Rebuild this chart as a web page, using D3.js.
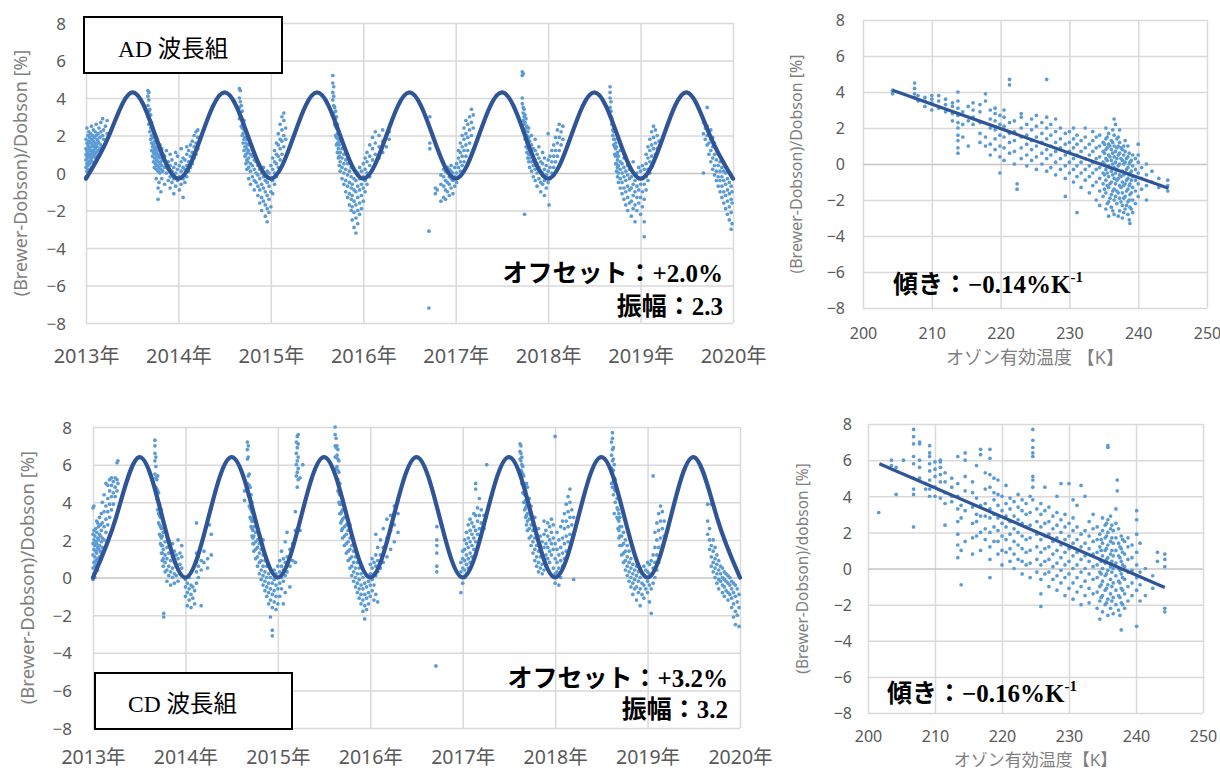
<!DOCTYPE html>
<html><head><meta charset="utf-8">
<script src="https://cdn.jsdelivr.net/npm/d3@7"></script>
<style>body{margin:0;background:#fff}svg{display:block}</style>
</head><body>
<svg id="c" width="1220" height="771"></svg>
<script>
// ---------------- DATA ----------------
const yearLabels = ["2013年","2014年","2015年","2016年","2017年","2018年","2019年","2020年"];
const yTickValues = [-8,-6,-4,-2,0,2,4,6,8];
const tempTicks = [200,210,220,230,240,250];

// fitted seasonal curves, values read at quarter-year steps from 2013.0
const adCurve = [-0.3,2.0,4.3,2.0, -0.3,2.0,4.3,2.0, -0.3,2.0,4.3,2.0, -0.3,2.0,4.3,2.0, -0.3,2.0,4.3,2.0, -0.3,2.0,4.3,2.0, -0.3,2.0,4.3,2.0, -0.3];
const cdCurve = [0.0,3.2,6.4,3.2, 0.0,3.2,6.4,3.2, 0.0,3.2,6.4,3.2, 0.0,3.2,6.4,3.2, 0.0,3.2,6.4,3.2, 0.0,3.2,6.4,3.2, 0.0,3.2,6.4,3.2, 0.0];

// regression lines [temperature K, %]
const adFit = [[204.3,4.1],[244.4,-1.35]];
const cdFit = [[201.7,5.8],[244.3,-1.05]];

// time series points: "years-since-2013:v,v,v;..."
const adSeries = `
0.00:-0.2,0.3,0.7,1.0,1.3,1.8;0.01:0.1,0.5,0.9,1.2,1.6,2.4;0.02:0.4,0.8,1.1,1.5,2.0;0.03:0.2,0.6,1.0,1.4,1.7,2.2;
0.04:0.5,0.9,1.3,1.9;0.05:0.7,1.0,1.2,1.6,2.1;0.06:0.3,0.8,1.4,1.8,2.5;0.07:0.6,1.1,1.5,2.0;0.08:0.9,1.2,1.7,2.3;
0.09:0.5,1.0,1.4,1.9;0.10:0.8,1.3,1.6,2.2;0.11:1.1,1.5,2.0,2.6;0.12:0.9,1.4,1.8;0.13:1.2,1.7,2.1;0.14:1.0,1.6,2.4;
0.15:1.3,1.9;0.16:1.5,2.2,2.7;0.18:1.4,2.0,2.9;0.19:1.8,2.3;0.21:1.6,2.5;0.23:2.1,2.8;
0.67:3.0,3.6,4.1,4.4;0.68:2.6,3.3,3.9,4.3;0.69:2.2,2.8,3.4;0.70:1.8,2.4,3.1;0.71:1.2,1.6,2.0,2.7;0.72:0.9,1.4,1.9,2.3;
0.73:0.6,1.1,1.5,2.1;0.74:0.3,0.8,1.3,1.7;0.75:0.5,1.0,1.2,1.6,2.0;0.76:-0.3,0.2,0.7,1.1,1.4;0.77:0.4,0.9,1.3,1.8;
0.78:-1.4,-0.8,0.1,0.6,1.0;0.79:-0.5,0.3,0.8,1.2;0.80:0.0,0.5,0.9,1.5;0.81:-1.0,0.2,0.6,1.1;0.82:-0.3,0.4,0.8,1.3;
0.83:0.1,0.7,1.0;0.85:-0.6,0.3,0.9;0.87:0.0,0.5,1.2;0.89:-0.4,0.2,0.6;0.91:-0.8,-0.2,0.4,1.0;0.93:-0.5,0.1,0.7;
0.95:-1.1,-0.3,0.3;0.97:-0.7,0.0,0.5,1.1;0.99:-0.4,0.2,0.9;1.01:-0.9,-0.2,0.4;1.03:-0.6,0.1,0.6,1.3;1.05:-1.3,-0.3,0.3,0.8;
1.07:-0.5,0.2,0.7;1.09:-0.2,0.4,1.0,1.4;1.11:0.1,0.6,1.2;1.13:0.3,0.9,1.5;1.15:0.5,1.1,1.7;1.17:0.8,1.4,2.0;1.19:1.0,1.6,2.2;1.21:1.3,1.9,2.3;
1.66:2.9,3.5,4.0,4.5;1.67:3.2,3.8,4.4;1.68:2.5,3.0,3.6;1.69:2.0,2.4,2.9,3.3;1.70:1.6,2.1,2.6;1.71:1.2,1.8,2.3,2.8;
1.72:0.9,1.4,1.9;1.73:0.5,1.0,1.6,2.2;1.74:0.2,0.7,1.3,1.8;1.75:0.6,1.1,1.5;1.76:-0.3,0.3,0.8,1.2;1.78:-0.6,0.1,0.5,1.0;
1.80:-0.2,0.4,0.9;1.82:-0.9,-0.4,0.2,0.7;1.84:-0.5,0.0,0.6;1.86:-1.2,-0.7,-0.1,0.4;1.88:-1.6,-0.9,-0.3,0.2;
1.90:-2.0,-1.3,-0.6,0.0;1.92:-1.5,-0.8,-0.2,0.3;1.94:-2.3,-1.7,-1.0,-0.4;1.96:-2.6,-1.9,-1.2,-0.5,0.1;1.98:-2.1,-1.4,-0.7,0.0;
2.00:-1.8,-1.0,-0.3,0.4;2.02:-1.1,-0.4,0.2,0.8;2.04:-0.6,0.0,0.6,1.2;2.06:-0.2,0.5,1.0,1.6;2.08:0.3,0.9,1.5,2.1;
2.10:0.7,1.3,1.8,2.6;2.12:1.0,1.7,2.3,3.0;2.14:1.4,2.0,2.8,3.2;2.16:1.8,2.4;
2.67:3.9,4.3,4.8,5.2;2.68:3.2,3.6,4.1,4.6;2.69:2.6,3.0,3.5;2.70:2.0,2.5,2.9,3.3;2.71:1.5,1.9,2.4,3.0;2.72:1.1,1.6,2.1,2.6;
2.73:0.8,1.3,1.8;2.74:0.4,0.9,1.5,2.2;2.75:0.1,0.6,1.1,1.7;2.77:-0.3,0.3,0.8,1.3;2.79:-0.6,0.0,0.5,1.0;2.81:-1.0,-0.4,0.2,0.7;
2.83:-1.3,-0.7,-0.1,0.5;2.85:-1.7,-1.1,-0.5,0.1;2.87:-2.0,-1.4,-0.8,-0.2,0.3;2.88:-2.5,-1.8,-1.2,-0.6;
2.90:-2.9,-2.1,-1.5,-0.9,-0.3;2.92:-3.2,-2.4,-1.7,-1.0,-0.4,0.1;2.94:-2.7,-2.0,-1.3,-0.7,0.0;2.96:-2.2,-1.6,-0.9,-0.3,0.3;
2.98:-1.9,-1.2,-0.6,0.1;3.00:-1.5,-0.8,-0.2,0.5;3.02:-1.0,-0.4,0.2,0.8;3.04:-0.6,0.0,0.6,1.1;3.07:-0.2,0.4,0.9,1.5;
3.10:0.2,0.7,1.3,1.9;3.13:0.5,1.0,1.6,2.2;3.17:0.8,1.4,2.0;3.21:1.1,1.7,2.3;3.25:1.4,2.0;3.28:1.8,2.2;
3.71:-3.1,-7.2;3.72:1.3,1.6,3.0;3.78:-1.1,-0.8;3.80:-0.9;3.84:-1.5,-0.6,-0.1;3.87:-1.3,-0.7,-0.2,0.2;3.89:-1.4,-0.9,-0.4,0.1;
3.91:-1.0,-0.5,0.0,0.3;3.93:-1.2,-0.6,-0.2,0.2;3.95:-0.8,-0.3,0.1,0.4;3.97:-1.1,-0.4,0.0;3.99:-0.7,-0.2,0.3;4.01:-0.5,0.0,0.5;
4.03:-0.2,0.3,0.8,1.2;4.05:0.1,0.6,1.1,1.6;4.07:0.4,0.9,1.4,2.0;4.09:0.6,1.2,1.8,2.4;4.11:0.9,1.5,2.1,2.8;4.13:1.2,1.9,2.6;
4.15:1.6,2.3,3.0;4.17:2.0,2.7,3.4;4.19:2.4,3.1;
4.72:3.7,4.0,5.2,5.4;4.73:2.8,3.2,3.5,5.3;4.74:2.2,2.6,3.0,3.4;4.745:-2.2;4.75:1.8,2.3,2.7,3.1;4.76:1.4,1.9,2.4,2.9;
4.77:1.1,1.6,2.0,2.5;4.78:0.8,1.3,1.7,2.2;4.79:0.6,1.0,1.5,1.9,2.4;4.80:0.3,0.8,1.2,1.7;4.82:0.1,0.6,1.1,1.5,2.0;
4.84:-0.2,0.4,0.9,1.3;4.86:-0.4,0.2,0.7,1.2,1.8;4.88:-0.7,0.0,0.5,1.0;4.90:-0.3,0.3,0.8,1.4;4.92:-1.0,-0.5,0.1,0.6;
4.94:-0.6,0.0,0.5,1.1;4.96:-1.2,-0.4,0.2,0.8;4.98:-0.8,-0.1,0.4;5.00:-0.5,0.1,0.7,2.1;5.01:-1.7;5.02:-0.3,0.3,0.9;
5.04:0.0,0.6,1.2;5.06:0.3,0.9,1.5;5.08:0.6,1.2,1.9;5.10:0.9,1.6,2.3;5.12:1.2,1.9,2.6;5.14:1.5,2.2;5.16:1.8,2.5;
5.67:3.5,4.0,4.3,4.6;5.68:3.0,3.3,3.8;5.69:2.6,2.9;5.70:2.0,2.3,2.6;5.71:1.5,1.8,2.2,2.5;5.72:1.0,1.4,1.8;
5.73:0.5,0.9,1.3,1.6;5.74:0.1,0.5,1.0,1.4;5.75:-0.2,0.3,0.7,1.1;5.76:-0.5,0.0,0.4,0.9;5.78:-0.8,-0.3,0.2,0.6,1.2;
5.80:-1.1,-0.5,0.0,0.5;5.82:-1.4,-0.8,-0.2,0.3,0.8;5.84:-1.7,-1.0,-0.4,0.1;5.86:-2.0,-1.3,-0.7,-0.1,0.4;
5.88:-1.6,-0.9,-0.3,0.2;5.90:-2.3,-1.5,-0.8,-0.2;5.92:-1.9,-1.2,-0.6,0.0,0.6;5.94:-2.6,-1.7,-1.0,-0.4;
5.96:-2.0,-1.3,-0.7,0.0;5.98:-1.6,-0.9,-0.3,0.3;6.00:-2.2,-1.3,-0.6,0.1;6.02:-1.8,-1.0,-0.3,0.4;6.04:-3.4,-2.6,-1.4,-0.6,0.2;
6.06:-0.9,-0.2,0.5,1.0;6.08:-0.4,0.2,0.8,1.4;6.10:0.0,0.6,1.2,1.8;6.12:0.3,0.9,1.5,2.2;6.14:0.6,1.3,1.9,2.5;
6.16:1.0,1.6,2.3;6.18:1.3,2.0;6.20:1.7;
6.68:0.0,2.1,2.7;6.70:1.8,2.4,2.6;6.72:1.5,2.0,2.5,3.5;6.74:1.0,1.6,2.2;6.76:0.6,1.2,1.8,2.3;6.78:0.2,0.8,1.4,1.9;
6.80:-0.1,0.4,1.0,1.6;6.82:-0.4,0.1,0.7,1.3;6.84:-0.7,-0.2,0.4,1.0;6.86:-1.0,-0.4,0.1,0.6;6.88:-1.3,-0.7,-0.2,0.3;
6.90:-1.6,-1.0,-0.4,0.1;6.92:-1.9,-1.2,-0.6,0.0;6.94:-2.2,-1.5,-0.9,-0.3;6.96:-2.5,-1.8,-1.1,-0.5;6.98:-3.0,-2.1,-1.4,-0.7;
6.99:-2.7,-1.6,-1.0`;

const cdSeries = `
0.00:-0.1,0.5,1.2,1.8,2.3,3.7;0.01:0.2,0.8,1.5,2.0,2.5,3.8;0.02:0.0,0.6,1.1,1.7,2.2;0.03:0.3,0.9,1.4,1.9,2.6;
0.04:0.7,1.3,1.8,2.4,3.0;0.05:0.4,1.0,1.6,2.1,2.9;0.06:0.8,1.5,2.0,2.7;0.07:1.1,1.7,2.3,3.2;0.08:0.9,1.4,2.2,2.8;
0.09:1.3,1.9,2.5,3.4;0.10:1.6,2.1,2.9,4.0;0.12:2.0,2.7,3.5,4.4;0.14:2.4,3.1,3.8,5.0;0.16:2.8,3.5,4.2,4.9;
0.18:3.2,3.9,4.6,5.2;0.20:3.6,4.3,4.9,5.3;0.22:3.9,4.5,5.1;0.24:4.3,4.8,5.3;0.26:4.6,5.2,6.1;0.27:5.0,6.2;
0.67:5.5,6.2,6.6,7.0,7.3;0.68:4.8,5.3,5.9,6.4;0.69:4.2,4.7,5.2;0.70:3.6,4.1,4.6,5.4;0.71:2.9,3.4,4.0,4.5;
0.72:2.3,2.8,3.3,3.9;0.73:1.8,2.2,2.7,3.2;0.74:1.3,1.7,2.1,2.6,3.6;0.75:0.9,1.3,1.7,2.2;0.76:0.6,1.0,1.5,2.4,3.0;
0.765:-2.1,-1.9;0.78:0.3,0.8,1.2,1.9,2.6;0.80:-0.2,0.4,1.0,1.6,2.2;0.82:0.1,0.6,1.3,2.0;0.84:-0.4,0.3,0.9,1.6;
0.86:0.0,0.5,1.1,1.8;0.88:-0.3,0.2,0.8,1.4;0.90:0.1,0.6,1.2;0.92:-0.2,0.4,1.0,2.0;0.94:0.2,0.7,1.3;0.96:0.5,1.1,1.7;
1.00:-1.0,-0.5,-0.1;1.02:-1.5,-0.8,-0.3;1.04:-1.2,-0.6,0.0;1.06:-1.6,-0.9,-0.4;1.08:-1.1,-0.5;1.10:-1.4,-0.7;
1.12:-0.3,0.3,0.8,1.3,2.9;1.14:0.0,0.6,1.1;1.17:-1.5,0.4,0.9;1.20:0.8,1.4,2.2;1.24:0.5,1.0;1.26:2.8;1.28:1.2,2.3;
1.64:4.1,4.6,5.2;1.67:5.0,6.3,6.8,7.2;1.68:4.4,5.4,6.4,7.0;1.69:3.8,4.3,4.9,5.5;1.70:3.2,3.7,4.2,4.8;
1.71:2.7,3.1,3.6,4.4;1.72:2.2,2.6,3.0,3.5,4.0;1.73:1.8,2.1,2.5,3.0,3.4;1.74:1.4,1.8,2.2,2.7,3.2;
1.76:1.0,1.5,1.9,2.4,3.0;1.78:0.6,1.1,1.6,2.0,2.6;1.80:0.2,0.8,1.3,1.8,2.3;1.82:-0.1,0.4,0.9,1.5;
1.84:-0.4,0.1,0.6,1.2,2.0;1.86:-0.7,-0.2,0.3,0.9;1.88:-1.0,-0.5,0.0,0.6;1.90:-1.4,-0.8,-0.3,0.2;
1.92:-2.1,-1.2,-0.6,0.0;1.94:-3.1,-2.8,-1.6,-0.9,-0.3;1.96:-1.3,-0.7,-0.1,0.4;1.98:-1.7,-1.0,-0.4,0.2;
2.00:-1.4,-0.6,0.0,0.6;2.02:-1.0,-0.3,0.3,0.9;2.04:-0.6,0.0,0.6,1.4;2.06:-1.4,-0.2,0.4,1.0;2.08:-0.8,0.1,0.8,1.9;
2.10:0.3,1.1,2.4;2.13:-0.5,0.6,1.5;2.16:0.9,1.8;2.19:0.8,2.5,3.5;2.20:5.4,6.0,6.6,7.2;2.21:4.8,5.6,6.2,6.9,7.5;
2.22:5.2,5.8,6.4,7.1,7.6;2.24:2.5,5.3;2.27:6.0;
2.62:6.4,7.0,7.6,8.0;2.63:5.8,6.4,6.9,7.4;2.64:5.2,5.9,6.5,7.0;2.65:4.6,5.2,5.7,6.3,6.8;2.66:4.0,4.5,5.0,5.6,6.2;
2.67:3.4,3.9,4.4,5.0;2.68:2.9,3.4,3.9,4.4;2.69:2.5,3.0,3.5,4.0;2.70:2.1,2.6,3.1,3.6;2.72:1.7,2.2,2.7,3.2,3.8;
2.74:1.3,1.8,2.3,2.8;2.76:0.9,1.4,1.9,2.5;2.78:0.5,1.0,1.5,2.1,2.8;2.80:0.1,0.6,1.1,1.7;2.82:-0.2,0.3,0.8,1.4;
2.84:-0.5,0.0,0.5,1.1;2.86:-0.8,-0.3,0.2,0.8;2.88:-1.1,-0.6,-0.1,0.5;2.90:-1.4,-0.9,-0.4,0.2;2.92:-1.8,-1.2,-0.6,0.0;
2.94:-2.2,-1.5,-0.9,-0.3;2.96:-1.7,-1.1,-0.5,0.1;2.98:-1.4,-0.8,-0.2;3.00:-1.0,-0.4,0.2,0.7;3.02:-0.7,-0.1,0.5,1.0;
3.04:-1.2,-0.4,0.2,0.8;3.06:-0.9,0.1,0.6,1.2,2.3;3.08:-1.3,0.3,0.9,1.6;3.11:0.5,1.2,2.0;3.14:0.8,1.6,2.6;
3.18:1.1,2.1,3.1;3.22:1.5,2.5,3.3;3.26:1.9,2.8,3.8;3.30:2.4,3.4;
3.71:-4.7;3.72:0.3,0.6,1.3,1.7,2.0,2.7;
3.98:-0.8,0.3,0.8;4.00:-0.3,0.5,1.0,1.4;4.02:0.0,0.4,0.9,1.5,2.0;4.04:0.2,0.7,1.2,1.8,2.4;4.06:0.5,1.0,1.6,2.1,2.8;
4.08:0.8,1.3,1.9,2.5,3.1;4.10:1.1,1.7,2.3,2.9;4.12:1.5,2.1,2.7,3.4;4.14:1.2,1.9,2.5,3.3,4.7,5.0;4.16:1.6,2.3,3.0,3.7;
4.18:2.0,2.6,3.3,4.2;4.20:2.2,2.9,3.6;4.23:2.6,3.3;4.26:6.0;
4.62:6.3,6.7,7.1;4.63:5.7,6.2,6.6,7.0;4.64:5.0,5.6,6.0,6.4;4.65:4.5,5.0,5.5,5.9;4.66:4.0,4.5,5.0,5.4;
4.67:3.6,4.0,4.4,4.9;4.68:3.2,3.7,4.1,4.6;4.69:2.8,3.3,3.8,4.3,5.0;4.70:2.5,3.0,3.4,3.9,4.8;4.72:2.1,2.6,3.1,3.6,4.2;
4.74:1.7,2.2,2.8,3.3,3.8;4.76:1.3,1.9,2.5,3.0;4.78:0.9,1.5,2.1,2.7,3.2;4.80:0.6,1.1,1.7,2.3;4.82:0.3,0.8,1.4,2.0,2.6;
4.84:0.5,1.1,1.7,2.2;4.86:0.2,0.7,1.3,1.9;4.88:0.4,1.0,1.6,2.3,3.0;4.90:0.6,1.2,1.8,2.5;4.92:1.0,1.6,2.2,2.9;
4.94:0.8,1.4,2.0,2.7;4.96:1.2,1.8,2.4,3.1;4.98:0.5,1.5,2.1,2.8;5.00:-0.3,0.2,1.0,1.8,7.5;5.02:0.3,0.8,1.5,2.4;
5.04:-0.4,0.5,1.2,2.0;5.06:0.0,0.9,1.6,2.7;5.08:0.6,1.3,2.1,3.0;5.10:1.0,1.8,2.6,3.4;5.12:1.4,2.2,3.0,3.9;
5.14:1.9,2.7,3.5,4.3;5.16:2.3,3.2,4.0,4.7;5.18:2.8,3.6;5.20:-0.1,3.2;
5.61:5.0,5.8,6.5,7.2;5.62:4.8,5.5,6.2,6.8,7.4,7.7;5.63:4.4,5.1,5.7,6.3,6.9;5.64:3.4,4.7,5.3,6.0;5.65:4.0,4.6,5.2;
5.67:3.2,3.7,4.2;5.68:2.6,3.1,3.6;5.69:2.1,2.5,3.0,3.4;5.70:1.7,2.2,2.7,3.2;5.72:1.2,1.7,2.2,2.7;5.74:0.8,1.3,1.8,2.4;
5.76:0.4,0.9,1.4,2.0;5.78:0.1,0.6,1.1,1.7;5.80:-0.2,0.3,0.8,1.4;5.82:-0.5,0.0,0.5,1.0;5.84:-0.9,-0.3,0.2,0.7;
5.86:-0.6,-0.1,0.4;5.88:-1.2,-0.5,0.1,0.6;5.90:-0.8,-0.2,0.3;5.92:-1.5,-0.6,0.0,0.5;5.94:-0.9,-0.3,0.2;
5.96:-1.1,-0.4,0.1,0.6;5.98:-0.6,0.0,0.4;6.00:-0.8,-0.2,0.3,0.8;6.02:-1.3,-0.4,0.2,0.7;6.04:-1.9,-0.6,0.1,0.9;
6.06:-0.3,0.5,1.2,5.4;6.08:0.0,0.8,1.6,2.4;6.10:0.4,1.2,2.0,2.9;6.12:0.8,1.6,2.5,3.4;6.14:1.2,2.1,3.0,3.8;
6.16:1.7,2.6,3.5;6.18:2.2,3.0;
6.65:2.3,3.0,3.9;6.67:1.5,2.0,2.6;6.69:0.6,1.1,1.7,3.9;6.71:0.3,0.8,1.4,2.0;6.73:0.0,0.5,1.0,1.6;6.75:-0.3,0.2,0.7,1.2;
6.77:-0.6,-0.1,0.4,0.9;6.79:-0.2,0.2,0.6;6.81:-0.8,-0.4,0.0,0.5;6.83:-1.0,-0.5,-0.1,0.3;6.85:-0.7,-0.2,0.2;
6.87:-1.2,-0.8,-0.3,0.1;6.89:-0.9,-0.4,0.0;6.91:-1.6,-1.1,-0.6,-0.2;6.93:-2.1,-1.4,-0.8,-0.3;6.95:-2.5,-1.8,-1.0,-0.4;
6.97:-2.0,-1.3,-0.6;6.99:-2.6,-1.6,-0.9`;

// scatter points: "ozone effective temperature K:v,v,v;..."
const adScatter = `
204.3:3.9,4.0,4.1;207.5:3.7,3.9,4.2,4.5;208:3.5,3.8;209:3.2,3.5,3.7;210:3.0,3.4,3.6,3.8;211:3.1,3.5,3.8;212:2.9,3.3,3.6;
213:2.4,2.8,3.2,3.4;213.8:0.6,0.9,1.3,1.6,2.0,2.3,2.7,3.1,3.5,4.0;214.5:1.5,2.2,2.9;215.3:1.0,2.4,3.2;216:2.2,2.6,3.0,3.4;
217:1.2,1.7,2.3,2.9,3.3;217.8:1.0,1.5,3.5,3.9;218.5:0.5,1.1,2.0,2.5,3.0;219.2:0.8,1.4,1.9,2.4,2.8,3.1;
219.9:-0.5,0.4,1.0,1.6,2.2,2.7;220.5:0.2,0.9,1.5,2.1,2.6,3.0;221.3:0.6,1.2,1.7,2.3,4.4,4.7;222:0.0,0.7,1.3,1.8,2.4;
222.4:-1.4,-1.1;223:0.3,0.9,1.5,2.0,2.6,2.8;223.8:-0.1,0.5,1.1,1.6,2.2;224.5:0.2,0.8,1.3,1.9,2.5;
225.2:-0.3,0.4,1.0,1.5,2.1,2.7;226:0.0,0.6,1.2,1.7,2.3;226.7:-0.4,0.3,0.8,1.4,2.0,2.6,4.7;227.3:-0.2,0.5,1.0,1.6,2.2;
228:-0.6,0.1,0.7,1.2,1.8,2.5;228.7:-0.3,0.3,0.9,1.4,2.0;229.4:-1.8,-0.8,-0.1,0.5,1.1,1.7;230:-0.5,0.1,0.7,1.2,1.8;
230.6:-1.0,-0.3,0.3,0.9,1.4,2.0;231.1:-2.7,-0.7,-0.1,0.5,1.1,1.6;231.7:-1.3,-0.5,0.1,0.7,1.3;
232.3:-0.9,-0.3,0.3,0.9,1.5,2.0;232.9:-1.6,-0.7,-0.1,0.5,1.1;233.4:-1.2,-0.5,0.1,0.7,1.3,1.8;
233.9:-2.0,-1.0,-0.3,0.3,0.9,1.5;234.4:-2.3,-1.5,-0.8,-0.2,0.4,1.0,1.6;234.9:-1.8,-1.1,-0.5,0.1,0.7,1.2;
235.1:-1.4,-0.6,0.0,0.6,1.1;235.3:-2.5,-1.6,-0.9,-0.3,0.3,0.8,1.4,2.0;235.5:-2.2,-1.2,-0.5,0.2,0.9,1.5;
235.7:-2.9,-2.1,-1.3,-0.7,-0.1,0.5,1.1,1.7;235.9:-1.9,-1.1,-0.2,0.4,1.0;236.1:-2.4,-1.7,-1.0,-0.4,0.2,0.8,1.3;
236.3:-2.6,-1.5,-0.6,0.0,0.6,1.2,1.9;236.5:-2.8,-2.0,-1.4,-0.8,-0.2,0.4,1.0,1.6,2.5;236.7:-1.8,-1.1,-0.5,0.1,0.7,2.2;
236.9:-2.2,-1.5,-0.9,-0.3,0.3,0.9,1.4;237.1:-2.9,-1.6,-0.8,-0.1,0.5,1.0,1.5;237.3:-2.6,-1.9,-1.2,-0.6,0.0,0.6,1.2,1.9;
237.5:-2.1,-1.3,-0.7,0.3,0.9;237.7:-3.0,-2.3,-1.6,-1.0,-0.4,0.2,0.8;237.9:-2.7,-1.9,-1.2,-0.6,0.0,0.5,1.0;
238.1:-2.5,-1.8,-1.1,-0.5,0.1,0.7,1.3;238.3:-2.3,-1.5,-0.9,-0.3,0.3;238.5:-2.8,-2.1,-1.4,-0.8,-0.2,0.4,1.0;
238.7:-3.1,-2.0,-1.2,-0.6,0.0,0.6;238.8:-3.3,-2.4,-1.7,-1.1,-0.5,0.1;239.0:-2.5,-1.6,-0.9,-0.4,0.2;
239.2:-2.7,-2.0,-1.3,-0.7,-0.1,0.5;239.6:-2.2,-1.5,-0.9,-0.3,0.3;240:-1.8,-1.1,-0.5,0.1,0.5,1.1;240.5:-1.4,-0.8,-0.2;
241.2:-2.0,-1.2,-0.6,0.0;242:-1.0,-0.4;243:-1.3,-0.8;244.3:-1.5,-1.2,-0.9`;

const cdScatter = `
201.6:3.1;203.5:6.0,5.7;204.2:5.6,4.1;205.3:6.0;206.8:5.0,5.8,6.2,6.9,7.3,7.7,2.3,4.1,4.4;207.7:5.0,5.6,6.0,7.0,6.9;
208.6:4.4,4.7;209.2:4.0,4.4,4.9,5.4,5.8,6.2,6.4,6.8;210:4.0,4.5,5.1,5.5,5.9;210.8:3.9,4.8,5.2,5.6,6.0,5.9;
211.5:3.6,4.2,4.8,5.3,2.4;212.5:3.7,4.0,4.5,5.0;213.4:1.3,1.9,2.6,3.3,4.0,4.7,6.2,0.6;213.9:-0.9,1.0,2.8,3.5;
214.5:1.5,3.2,4.3,5.1,6.0,6.4;215.6:0.8,1.7,2.5,3.4,4.2,4.8;216.2:1.8,2.6,3.0,3.9,5.7;216.8:1.0,2.0,2.9,3.5,6.6,6.3;
217.5:1.6,2.2,2.9,3.6,4.4,5.3;218.2:-0.5,0.5,1.2,2.0,2.8,3.3,4.5,5.2,6.1,6.6;218.8:1.5,2.3,3.0,3.8,4.2,5.0;
219.4:0.8,1.5,2.1,2.8,3.5,4.1,4.9;220:0.2,1.0,1.8,2.5,3.2,4.0;220.6:0.9,1.6,2.3,2.9,3.6,4.6;
221.2:0.4,1.1,1.9,2.6,3.3,3.9;221.8:0.0,0.8,1.5,2.2,2.9,3.7;222.4:0.5,1.3,2.0,2.7,3.4,4.1;
223:-0.3,0.4,1.1,1.8,2.5,3.2,3.8;223.6:0.2,0.9,1.6,2.3,3.0,3.6;224.2:-0.5,0.3,1.0,1.7,2.4,3.1,4.0;
224.6:3.8,4.5,4.9,5.1,6.2,6.4,6.7,7.1,7.7;225.2:-0.2,0.5,1.2,1.9,2.6,3.3;225.8:-2.1,-1.4,-0.6,0.2,0.9,1.6,2.3,3.0,3.6;
226.4:-0.3,0.4,1.1,1.8,2.5,3.2,4.5;227:-1.0,-0.2,0.5,1.2,1.9,2.6,3.4;227.6:-0.6,0.1,0.8,1.5,2.2,2.9;
228.2:-1.2,-0.4,0.3,1.0,1.7,2.4,3.1,4.0;228.8:-0.8,-0.1,0.6,1.3,2.0,2.7,4.7;229.4:-1.5,-0.5,0.2,0.9,1.6,2.3,3.0;
230:-1.1,-0.3,0.4,1.1,1.8,2.5,4.7;230.6:-1.7,-0.8,0.0,0.7,1.4,2.1,2.8,3.8;231.2:-1.3,-0.5,0.2,0.9,1.6,2.3,3.5;
231.8:-2.0,-1.0,-0.2,0.5,1.2,1.9,4.6;232.4:-1.5,-0.7,0.0,0.7,1.4,2.1,4.0;233:-1.9,-1.1,-0.3,0.4,1.1,1.8,2.6;
233.6:-1.4,-0.6,0.1,0.8,1.5,2.2,3.0;234.2:-2.2,-1.3,-0.5,0.2,0.9,1.6,2.3;234.6:-2.8,-1.8,-1.0,-0.2,0.5,1.2,1.9;
234.8:-1.6,-0.9,-0.3,0.4,1.0,1.6;235.0:-2.4,-1.5,-0.7,0.0,0.7,1.4,2.1,2.8;235.4:-2.0,-1.2,-0.4,0.3,1.0,1.7,2.4;
235.6:-1.9,-1.1,-0.3,0.5,1.1,1.8,2.5;235.8:-2.6,-1.7,-0.9,-0.1,0.6,1.3,2.0,2.7,6.7,6.8;
236.2:-2.2,-1.4,-0.6,0.1,0.8,1.5,2.2,2.9;236.4:-1.8,-1.0,-0.2,0.4,1.0,1.7,2.4;236.6:-2.5,-1.6,-0.8,0.0,0.7,1.4,2.1;
237.0:-2.0,-1.2,-0.4,0.3,1.0,1.7,2.5,3.3;237.2:4.3,4.9;237.4:-2.3,-1.5,-0.7,0.0,0.7,1.4,2.2;
237.6:-2.6,-1.6,-0.8,-0.1,0.6,1.2;237.8:-3.4,-1.9,-1.1,-0.3,0.4,1.1,1.8;238.0:-2.0,-1.2,-0.5,0.2,0.9,1.6;
238.3:-2.2,-1.4,-0.6,0.1,0.8,1.5;238.8:-1.8,-1.0,-0.2,0.5,1.2,1.7;239.4:-1.5,-0.8,-0.1,0.6,1.3;
240.1:-3.2,-1.2,-0.5,0.2,0.9,1.9,2.7,3.2;240.6:-1.8,-0.9,-0.2,1.4;241.4:-1.5,-0.6,0.0;242.5:-1.1,-0.4;243.2:0.4,0.9;
244.3:-2.4,-2.2,0.1,0.5,0.8`;

// ---------------- DRAWING ----------------
const SANS = '"Noto Sans","Noto Sans CJK JP",sans-serif';
const SERIF = '"Liberation Serif","Noto Sans CJK JP",serif';
const DOT = '#5b9bd5', LINE = '#2f5597', GRID = '#d9d9d9', TICK = '#595959', TITLE = '#7f7f7f';
const DOT_R = 1.85;

function parseColumns(str) {
  const out = [];
  str.replace(/\s+/g, '').split(';').forEach(col => {
    if (!col) return;
    const [x, vs] = col.split(':');
    vs.split(',').forEach(v => out.push([+x, +v]));
  });
  return out;
}

const svg = d3.select('#c');

function frame(o, x, y, xTicks, xFmt) {
  const g = svg.append('g');
  const gx = g.append('g').attr('transform', `translate(0,${o.bottom})`)
    .call(d3.axisBottom(x).tickValues(xTicks).tickFormat(xFmt).tickSize(-(o.bottom - o.top)).tickSizeOuter(0));
  gx.select('.domain').remove();
  gx.selectAll('line').attr('stroke', GRID).attr('stroke-width', 1.5);
  gx.selectAll('text').attr('y', o.xLabelBase - o.bottom).attr('dy', null)
    .attr('fill', TICK).style('font-family', SANS).style('font-size', o.xFont + 'px');
  const gy = g.append('g').attr('transform', `translate(${o.left},0)`)
    .call(d3.axisLeft(y).tickValues(yTickValues).tickSize(-(o.right - o.left)).tickSizeOuter(0));
  gy.select('.domain').remove();
  gy.selectAll('line').attr('stroke', GRID).attr('stroke-width', 1.5);
  gy.selectAll('.tick').filter(d => d === 0).select('line').attr('stroke', '#c4c4c4');
  gy.selectAll('text').attr('x', o.yLabelRight - o.left).attr('dy', '0.36em')
    .attr('fill', TICK).style('font-family', SANS).style('font-size', o.yFont + 'px');
  svg.append('text')
    .attr('transform', `translate(${o.titleX},${(o.top + o.bottom) / 2}) rotate(-90)`)
    .attr('text-anchor', 'middle').attr('fill', TITLE)
    .style('font-family', SANS).style('font-size', o.titleFont + 'px')
    .text(o.yTitle);
  return g;
}

function timePanel(o) {
  const x = d3.scaleLinear().domain([0, 7]).range([o.left, o.right]);
  const y = d3.scaleLinear().domain([-8, 8]).range([o.bottom, o.top]);
  frame(o, x, y, d3.range(0, 8), i => yearLabels[i]);
  svg.append('g').selectAll('circle').data(parseColumns(o.series)).join('circle')
    .attr('cx', d => x(d[0])).attr('cy', d => y(d[1])).attr('r', DOT_R).attr('fill', DOT);
  const line = d3.line().x((d, i) => x(i * 0.25)).y(d => y(d)).curve(d3.curveNatural);
  svg.append('path').attr('d', line(o.curve)).attr('fill', 'none')
    .attr('stroke', LINE).attr('stroke-width', 4.2).attr('stroke-linecap', 'round');
  svg.append('rect').attr('x', o.box[0]).attr('y', o.box[1]).attr('width', o.box[2]).attr('height', o.box[3])
    .attr('fill', '#fff').attr('stroke', '#000').attr('stroke-width', 2);
  svg.append('text').attr('x', o.boxText[0]).attr('y', o.boxText[1])
    .style('font-family', SERIF).style('font-size', '23.5px').attr('fill', '#000').text(o.boxLabel);
  o.notes.forEach(n => {
    svg.append('text').attr('x', n[0]).attr('y', n[1]).attr('text-anchor', 'end')
      .style('font-family', SERIF).style('font-size', '25px').style('font-weight', 'bold')
      .attr('fill', '#000').text(n[2]);
  });
}

function scatterPanel(o) {
  const x = d3.scaleLinear().domain([200, 250]).range([o.left, o.right]);
  const y = d3.scaleLinear().domain([-8, 8]).range([o.bottom, o.top]);
  frame(o, x, y, tempTicks, d3.format('d'));
  svg.append('g').selectAll('circle').data(parseColumns(o.series)).join('circle')
    .attr('cx', d => x(d[0])).attr('cy', d => y(d[1])).attr('r', DOT_R).attr('fill', DOT);
  svg.append('path').attr('d', d3.line().x(d => x(d[0])).y(d => y(d[1]))(o.fit))
    .attr('stroke', LINE).attr('stroke-width', 3.2).attr('fill', 'none');
  svg.append('text').attr('x', (o.left + o.right) / 2).attr('y', o.xTitleBase).attr('text-anchor', 'middle')
    .attr('fill', TITLE).style('font-family', SANS).style('font-size', o.xTitleFont + 'px').text(o.xTitle);
  const t = svg.append('text').attr('x', o.note[0]).attr('y', o.note[1])
    .style('font-family', SERIF).style('font-size', '25px').style('font-weight', 'bold').attr('fill', '#000');
  t.append('tspan').text(o.note[2]);
  t.append('tspan').attr('dy', -11).style('font-size', '15px').text('-1');
}

timePanel({
  left: 86, right: 733, top: 23, bottom: 323,
  xLabelBase: 363, xFont: 20, yLabelRight: 66, yFont: 17,
  titleX: 27, titleFont: 18, yTitle: '(Brewer-Dobson)/Dobson [%]',
  series: adSeries, curve: adCurve,
  box: [84, 17, 198, 56], boxText: [118, 57], boxLabel: 'AD 波長組',
  notes: [[723, 282, 'オフセット：+2.0%'], [723, 315, '振幅：2.3']]
});
scatterPanel({
  left: 863, right: 1207, top: 20, bottom: 308,
  xLabelBase: 339, xFont: 16, yLabelRight: 845, yFont: 16,
  titleX: 802, titleFont: 16, yTitle: '(Brewer-Dobson)/Dobson [%]',
  xTitle: 'オゾン有効温度 【K】', xTitleBase: 364, xTitleFont: 18,
  series: adScatter, fit: adFit, note: [893, 293, '傾き：−0.14%K']
});
timePanel({
  left: 93, right: 740, top: 427, bottom: 728,
  xLabelBase: 764, xFont: 19.5, yLabelRight: 72, yFont: 17,
  titleX: 34, titleFont: 18.5, yTitle: '(Brewer-Dobson)/Dobson [%]',
  series: cdSeries, curve: cdCurve,
  box: [95, 673, 197, 56], boxText: [128, 712], boxLabel: 'CD 波長組',
  notes: [[728, 687, 'オフセット：+3.2%'], [728, 718, '振幅：3.2']]
});
scatterPanel({
  left: 868, right: 1203, top: 424, bottom: 713,
  xLabelBase: 742, xFont: 16, yLabelRight: 852, yFont: 16,
  titleX: 808, titleFont: 15.5, yTitle: '(Brewer-Dobson)/dobson [%]',
  xTitle: 'オゾン有効温度【K】', xTitleBase: 766, xTitleFont: 17,
  series: cdScatter, fit: cdFit, note: [887, 702, '傾き：−0.16%K']
});
</script>
</body></html>
